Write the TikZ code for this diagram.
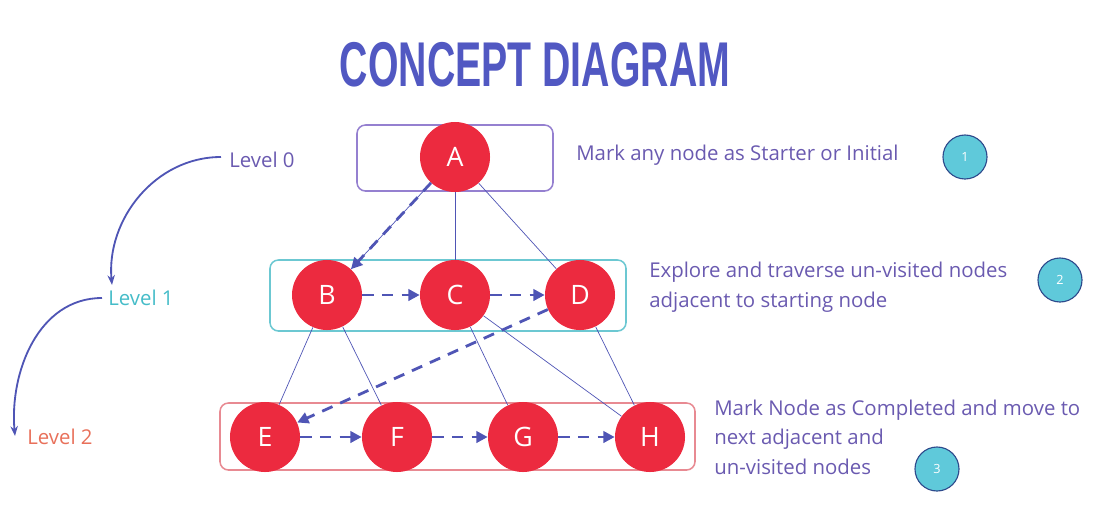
\documentclass[tikz,border=0pt]{standalone}
\usepackage{fontspec}
\setmainfont{Open Sans}
\newfontfamily\titlefont{Liberation Sans}
\usetikzlibrary{arrows.meta}
\definecolor{nodered}{HTML}{EC2A3F}
\definecolor{titleblue}{HTML}{5158C2}
\definecolor{edgeblue}{HTML}{4F55B5}
\definecolor{lvlpurple}{HTML}{9580D0}
\definecolor{lvlteal}{HTML}{6CC8D2}
\definecolor{lvlpink}{HTML}{E88A92}
\definecolor{txtpurple}{HTML}{6A5AB0}
\definecolor{txtteal}{HTML}{45BCC8}
\definecolor{txtorange}{HTML}{E8705A}
\definecolor{stepfill}{HTML}{5FC9DA}
\definecolor{stepline}{HTML}{2E4A8C}
\tikzset{
  vertex/.style={circle, fill=nodered, text=white, minimum size=1.75cm, inner sep=0pt, font=\fontsize{19}{19}\selectfont},
  levelbox/.style={rounded corners=6pt, line width=1.1pt},
  tree/.style={edgeblue, line width=0.5pt},
  visit/.style={edgeblue, line width=2pt, dash pattern=on 8pt off 6pt, -{Triangle[length=8pt,width=8pt]}},
  stepmark/.style={circle, fill=stepfill, draw=stepline, line width=0.8pt, minimum size=1.1cm, text=white, font=\small},
  note/.style={text=txtpurple, font=\fontsize{14.5}{21}\selectfont, anchor=west, align=left, inner sep=0pt}
}
\begin{document}
\begin{tikzpicture}[x=0.025cm, y=-0.025cm]
  \useasboundingbox (0,0) rectangle (1107,515);
  % Titel
  \node[text=titleblue, font=\titlefont\bfseries\fontsize{45}{45}\selectfont, xscale=0.62] (title) at (535,65) {CONCEPT DIAGRAM};
  % Ebenen
  \draw[levelbox, lvlpurple] (357,125) rectangle (553,191);
  \draw[levelbox, lvlteal] (270,260) rectangle (626,331);
  \draw[levelbox, lvlpink] (220,403) rectangle (695,470);
  % Knoten
  \node[vertex] (A) at (455,157) {A};
  \node[vertex] (B) at (327,295) {B};
  \node[vertex] (C) at (455,295) {C};
  \node[vertex] (D) at (580,295) {D};
  \node[vertex] (E) at (265,437) {E};
  \node[vertex] (F) at (397,437) {F};
  \node[vertex] (G) at (523,437) {G};
  \node[vertex] (H) at (650,437) {H};
  % Kanten
  \draw[tree] (A) -- (B);
  \draw[tree] (A) -- (C);
  \draw[tree] (A) -- (D);
  \draw[tree] (B) -- (E);
  \draw[tree] (B) -- (F);
  \draw[tree] (C) -- (G);
  \draw[tree] (C) -- (H);
  \draw[tree] (D) -- (H);
  % Besuchsreihenfolge
  \draw[visit] (A) -- (B);
  \draw[visit] (B) -- (C);
  \draw[visit] (C) -- (D);
  \draw[visit] (D) -- (E);
  \draw[visit] (E) -- (F);
  \draw[visit] (F) -- (G);
  \draw[visit] (G) -- (H);
  % Ebenen-Beschriftung
  \node[note, text=txtpurple] (lvl0) at (229,160) {Level 0};
  \node[note, text=txtteal] (lvl1) at (108,298) {Level 1};
  \node[note, text=txtorange] (lvl2) at (27,437) {Level 2};
  \draw[edgeblue, line width=1.3pt, -{Stealth[length=7pt]}] (lvl0.west) ++(-8,-3) to[out=180, in=95] (112,285);
  \draw[edgeblue, line width=1.3pt, -{Stealth[length=7pt]}] (lvl1.west) ++(-6,0) to[out=180, in=95] (15,436);
  % Hinweise
  \node[note] (note1) at (576,155) {Mark any node as Starter or Initial};
  \node[note] (note2) at (649,287) {Explore and traverse un-visited nodes\\adjacent to starting node};
  \node[note] (note3) at (714,437) {Mark Node as Completed and move to\\next adjacent and\\un-visited nodes};
  \node[stepmark] (s1) at (965,157) {1};
  \node[stepmark] (s2) at (1060,280) {2};
  \node[stepmark] (s3) at (937,469) {3};
\end{tikzpicture}
\end{document}
